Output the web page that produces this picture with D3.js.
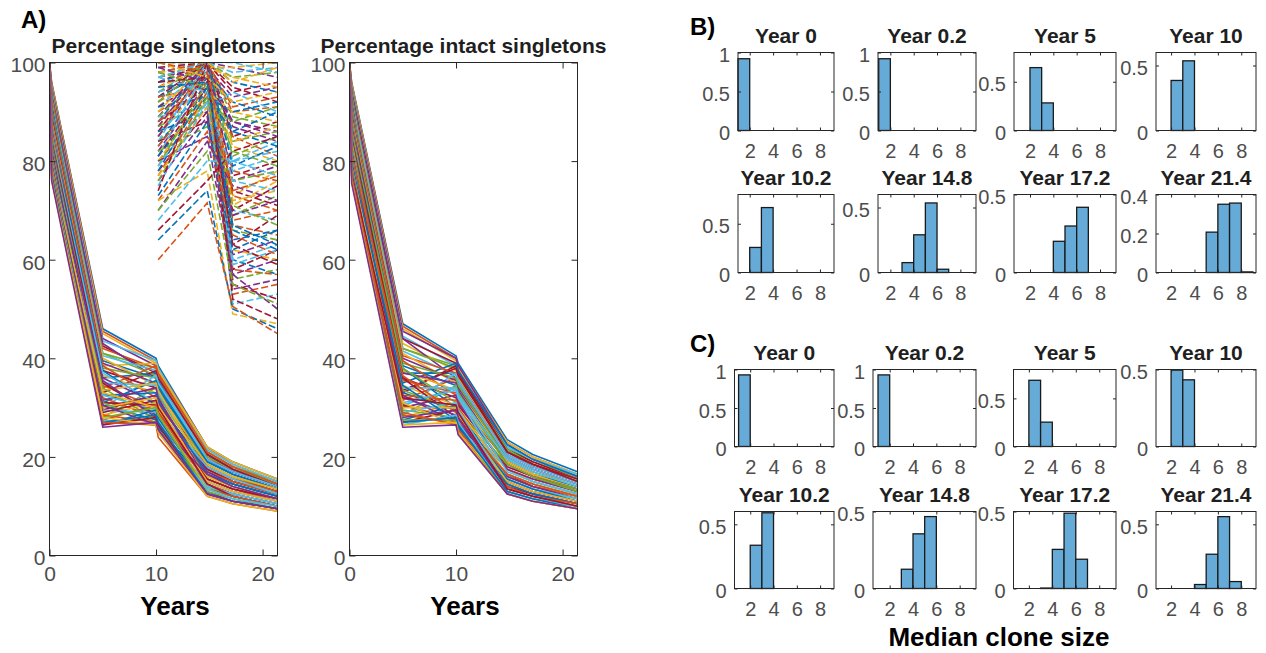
<!DOCTYPE html>
<html>
<head>
<meta charset="utf-8">
<script src="https://cdn.jsdelivr.net/npm/d3@7"></script>
<style>
  body { margin: 0; background: #fff; }
  svg { display: block; font-family: "Liberation Sans", Arial, Helvetica, sans-serif; }
</style>
</head>
<body>
<div id="chart"></div>
<script>
// ---- data ----

// sample times of every simulated run (years)
const years = [0, 0.2, 5, 10, 10.2, 14.8, 17.2, 21.4];

// A, left: percentage singletons per run
const singletonRuns = [
  [100, 96, 46, 40, 38.5, 22, 19, 15.5],
  [100, 95.8, 45.5, 39.5, 38, 22, 18.5, 15],
  [100, 95.5, 45, 39, 37.5, 21.5, 18.5, 15],
  [100, 95, 44, 38.5, 37, 21, 18, 14.5],
  [100, 94.5, 41, 38, 36.5, 21, 18, 15],
  [100, 94, 43.5, 39.5, 38, 21.5, 18.5, 15],
  [100, 93.5, 42.5, 37, 35.5, 20.5, 17.5, 14],
  [100, 93.2, 36, 37, 35.5, 20.5, 17.5, 14.5],
  [100, 93, 42, 38, 36.5, 20, 17, 14],
  [100, 92.5, 38.5, 39, 37.5, 22, 19, 15.5],
  [100, 92.2, 43, 36, 34.5, 19.5, 17, 14],
  [100, 92, 41, 36.5, 35, 20, 17.5, 14.5],
  [100, 91.5, 40.5, 37.5, 36, 19.5, 16.5, 13.5],
  [100, 91.2, 33, 37.5, 36, 20.5, 17.5, 14],
  [100, 91, 39.5, 36, 34.5, 19, 16.5, 13.5],
  [100, 90.5, 34, 38.5, 37, 21, 18, 14.5],
  [100, 90.2, 40, 34.5, 33, 18.5, 16, 13.5],
  [100, 90, 39, 35, 33.5, 19.5, 17, 14],
  [100, 89.5, 38, 36, 34, 18.5, 16, 13],
  [100, 89.2, 30, 36.5, 35, 19.5, 17, 14],
  [100, 89, 37.5, 34, 32.5, 18, 15.5, 13],
  [100, 88.5, 31, 35.5, 34, 19, 16.5, 13.5],
  [100, 88.2, 38.5, 32, 30.5, 18, 15.5, 13],
  [100, 88, 36.5, 33, 31.5, 18.5, 16, 13.5],
  [100, 87.5, 36, 31, 29.5, 17.5, 15, 12.5],
  [100, 87.2, 28, 34, 32.5, 17.5, 15, 12.5],
  [100, 87, 35, 34.5, 33, 17, 14.5, 12],
  [100, 86.5, 29.5, 32.5, 31, 17.5, 15, 12.5],
  [100, 86.2, 37.5, 30.5, 29, 16.5, 14.5, 12],
  [100, 86, 34.5, 30, 28.5, 17, 15, 12.5],
  [100, 85.5, 33.5, 35, 33.5, 16.5, 14, 11.5],
  [100, 85.2, 30, 32.5, 31, 17, 14.5, 12],
  [100, 85, 33, 29, 27.5, 16, 14, 11.5],
  [100, 84.5, 37, 31, 29.5, 18, 15.5, 12.5],
  [100, 84.2, 35, 28.5, 27, 15.5, 13.5, 11.5],
  [100, 84, 32.5, 33, 31.5, 16.5, 14.5, 12],
  [100, 83.5, 32, 28, 26.5, 15.5, 13.5, 11],
  [100, 83.2, 28.5, 31, 29.5, 16, 14, 11.5],
  [100, 83, 31.5, 34, 32, 15, 13, 11],
  [100, 82.5, 34, 27.5, 26, 14, 12, 10],
  [100, 82.2, 32.5, 29.5, 28, 15, 13, 11],
  [100, 82, 31, 30.5, 29, 15.5, 13.5, 11.5],
  [100, 81.5, 30.5, 27.5, 26, 14.5, 12.5, 10.5],
  [100, 81.2, 27.5, 30.5, 29, 14.5, 12.5, 10.5],
  [100, 81, 30, 32, 30.5, 15, 13, 11],
  [100, 80.5, 35.5, 28, 26.5, 16.5, 14, 11.5],
  [100, 80.2, 31, 27, 25.5, 14, 12, 10],
  [100, 80, 29.5, 29, 27.5, 14, 12.5, 10.5],
  [100, 79.5, 29, 31.5, 30, 14.5, 12, 10],
  [100, 79.2, 26.5, 29.5, 28, 13.5, 12, 10],
  [100, 79, 28.5, 27, 25.5, 13.5, 12, 10],
  [100, 78.5, 33, 30, 28.5, 13.5, 11.5, 9.5],
  [100, 78.2, 30.5, 26.5, 25, 13, 11, 9.5],
  [100, 78, 28, 30, 28.5, 13, 11.5, 9.5],
  [100, 77.5, 27.5, 26.5, 25, 13.5, 11.5, 10],
  [100, 77.2, 26.5, 28, 26.5, 12.5, 11, 9.5],
  [100, 77, 27, 28.5, 27, 12.5, 11, 9.5],
  [100, 76.5, 27, 26.5, 24, 12, 10.5, 9],
  [100, 76.2, 28, 26.5, 25, 12, 10.5, 9],
  [100, 76, 26, 27, 25.5, 12.5, 11, 9.5]
];

// A, left: second (dashed) set of runs, starting after year 10
const dashedYears = [10.2, 14.8, 17.2, 21.4];
const dashedRuns = [
  [100, 100, 99, 97], [100, 100, 97, 98], [99, 100, 98, 99], [99, 100, 94, 96],
  [98, 100, 96, 94], [98, 100, 91, 93], [98, 99, 99, 100], [97, 99, 93, 95],
  [97, 100, 89, 87], [97, 100, 100, 98], [96, 100, 95, 92], [96, 99, 86, 90],
  [95, 100, 90, 91], [95, 99, 97, 95], [94, 98, 88, 86], [94, 100, 84, 86],
  [94, 97, 80, 84], [93, 100, 85, 88], [93, 98, 92, 89], [93, 95, 85, 81],
  [92, 97, 83, 80], [92, 100, 87, 84], [92, 100, 81, 85], [91, 99, 80, 82],
  [91, 97, 77, 80], [91, 93, 90, 92], [90, 96, 78, 76], [90, 100, 73, 78],
  [89, 100, 76, 79], [89, 98, 69, 73], [89, 91, 94, 90], [88, 95, 74, 71],
  [88, 100, 79, 83], [88, 97, 67, 65], [87, 98, 72, 74], [87, 100, 61, 64],
  [87, 92, 88, 91], [86, 94, 70, 68], [86, 99, 58, 62], [86, 90, 60, 57],
  [85, 100, 68, 70], [85, 97, 71, 76], [85, 98, 54, 56], [84, 93, 66, 64],
  [84, 100, 51, 53], [84, 88, 70, 75], [83, 97, 64, 66], [83, 95, 73, 70],
  [82, 92, 62, 60], [82, 96, 69, 72], [82, 87, 76, 78], [81, 99, 60, 63],
  [81, 95, 63, 69], [81, 93, 86, 83], [80, 91, 58, 57], [80, 94, 90, 88],
  [80, 85, 57, 60], [79, 96, 56, 58], [79, 92, 78, 81], [78, 90, 55, 52],
  [78, 95, 67, 63], [77, 94, 53, 55], [77, 91, 84, 87], [76, 89, 57, 50],
  [76, 93, 71, 67], [75, 92, 59, 62], [74, 100, 52, 48], [73, 88, 62, 66],
  [72, 86, 65, 61], [72, 78, 49, 47], [70, 84, 75, 72], [70, 82, 55, 51],
  [68, 80, 80, 77], [66, 76, 82, 85], [64, 74, 50, 46], [60, 71.5, 50.5, 45],
  [100, 97, 92, 94], [99, 96, 88, 85], [98, 95, 82, 79], [97, 94, 76, 74],
  [96, 97, 63, 59], [95, 96, 66, 62], [100, 98, 74, 77], [100, 100, 96, 99]
];

// A, right: percentage intact singletons per run
const intactRuns = [
  [100, 96, 47, 40.5, 39, 23.5, 20.5, 17],
  [100, 95.8, 46.5, 40, 38.5, 23, 20, 16.5],
  [100, 95.5, 46, 39.5, 38, 23, 20, 16.5],
  [100, 95, 45.5, 40, 38.5, 22.5, 19.5, 16],
  [100, 94.8, 42, 38.5, 37, 22, 19, 16],
  [100, 94.5, 44.5, 38.5, 37, 22, 19.5, 16.5],
  [100, 94, 44, 39, 37.5, 21.5, 19, 15.5],
  [100, 93.8, 37, 37, 35.5, 21.5, 18.5, 15.5],
  [100, 93.5, 31.5, 36, 34.5, 21, 18, 15],
  [100, 93, 43, 37.5, 36, 21, 18.5, 15.5],
  [100, 92.8, 44, 36, 34.5, 20.5, 18, 15],
  [100, 92.5, 42, 38, 36.5, 21.5, 18.5, 15],
  [100, 92, 41.5, 36.5, 35, 20.5, 18, 15],
  [100, 91.8, 33, 38.5, 37, 21, 18.5, 15.5],
  [100, 91.5, 35, 39, 37.5, 22.5, 19.5, 16],
  [100, 91, 40.5, 37, 35.5, 20, 17.5, 14.5],
  [100, 90.8, 41, 35, 33.5, 19.5, 17, 14.5],
  [100, 90.5, 40, 35.5, 34, 20, 17.5, 14.5],
  [100, 90, 39, 36, 34.5, 19.5, 17, 14],
  [100, 89.8, 30, 37, 35.5, 20, 17.5, 14.5],
  [100, 89.5, 33.5, 38, 36.5, 21, 18.5, 15],
  [100, 89, 38.5, 34.5, 33, 19, 16.5, 14],
  [100, 88.8, 39.5, 32.5, 31, 19, 16.5, 13.5],
  [100, 88.5, 37.5, 33.5, 32, 19, 16.5, 13.5],
  [100, 88, 37, 35, 33.5, 18.5, 16, 13.5],
  [100, 87.8, 28.5, 34.5, 33, 18.5, 16, 13.5],
  [100, 87.5, 30.5, 34, 32.5, 19.5, 17, 14],
  [100, 87, 36, 32, 30.5, 18, 16, 13],
  [100, 86.8, 38, 30, 28.5, 17.5, 15, 12.5],
  [100, 86.5, 35.5, 33, 31.5, 17.5, 15.5, 13],
  [100, 86, 34.5, 30.5, 29, 17.5, 15, 12.5],
  [100, 85.8, 30, 32.5, 31, 17.5, 15.5, 13],
  [100, 85.5, 38, 31, 29.5, 18.5, 16, 13],
  [100, 85, 34, 34, 32.5, 17, 15, 12.5],
  [100, 84.8, 36, 28, 26.5, 16.5, 14, 12],
  [100, 84.5, 33, 29.5, 28, 16.5, 14.5, 12],
  [100, 84, 32.5, 31.5, 30, 16, 14, 12],
  [100, 83.8, 28, 31, 29.5, 16.5, 14.5, 12],
  [100, 83, 32, 28.5, 27, 16, 14, 11.5],
  [100, 82.8, 33.5, 29.5, 28, 15.5, 13.5, 11.5],
  [100, 82.5, 31, 33.5, 32, 15.5, 13.5, 11.5],
  [100, 82, 30.5, 27.5, 26, 15, 13, 11],
  [100, 81.8, 27.5, 30.5, 29, 15.5, 13.5, 11],
  [100, 81.5, 36.5, 29, 27.5, 16.5, 14.5, 12],
  [100, 81, 30, 30, 28.5, 15, 13, 11],
  [100, 80.8, 32.5, 27, 25.5, 14.5, 12.5, 10.5],
  [100, 80.5, 29.5, 28, 26.5, 14.5, 12.5, 10.5],
  [100, 80, 29, 31, 29.5, 14, 12.5, 10.5],
  [100, 79.8, 27, 29.5, 28, 14, 12.5, 10.5],
  [100, 79.5, 34.5, 27.5, 26, 14.5, 12.5, 10.5],
  [100, 79, 28.5, 27, 25.5, 14, 12, 10.5],
  [100, 78.8, 31, 26.5, 25, 13.5, 12, 10],
  [100, 78.5, 28, 29.5, 28, 13.5, 12, 10],
  [100, 78, 27.5, 27.5, 25, 13, 11.5, 10],
  [100, 77.8, 26.5, 28.5, 27, 13, 11.5, 10],
  [100, 77.5, 32, 30.5, 29, 13.5, 12, 10],
  [100, 77, 27, 28, 26.5, 13, 11.5, 9.5],
  [100, 76.8, 29, 26.5, 25, 12.5, 11, 9.5],
  [100, 76, 26.5, 27, 25, 12.5, 11, 9.5],
  [100, 75.5, 26, 26.5, 24.5, 12.5, 11, 9.5]
];

const lineTicksX = [0, 10, 20];
const lineTicksY = [0, 20, 40, 60, 80, 100];

// B and C: fraction of runs per median clone size bin
const histTitles = ['Year 0', 'Year 0.2', 'Year 5', 'Year 10', 'Year 10.2', 'Year 14.8', 'Year 17.2', 'Year 21.4'];
const binEdges = [1, 2, 3, 4, 5, 6, 7, 8, 9];
const histTicksX = [2, 4, 6, 8];

const histB = [
  [0.92, 0, 0, 0, 0, 0, 0, 0],
  [0.92, 0, 0, 0, 0, 0, 0, 0],
  [0, 0.645, 0.283, 0, 0, 0, 0, 0],
  [0, 0.385, 0.536, 0, 0, 0, 0, 0],
  [0, 0.257, 0.666, 0, 0, 0, 0, 0],
  [0, 0, 0.076, 0.29, 0.535, 0.025, 0, 0],
  [0, 0, 0, 0.2, 0.298, 0.418, 0, 0],
  [0, 0, 0, 0, 0.207, 0.35, 0.356, 0.003]
];
const yMaxB = [1, 1, 0.8, 0.6, 0.8, 0.6, 0.5, 0.4];
const yTicksB = [[0, 0.5, 1], [0, 0.5, 1], [0, 0.5], [0, 0.5], [0, 0.5], [0, 0.5], [0, 0.5], [0, 0.2, 0.4]];

const histC = [
  [0.93, 0, 0, 0, 0, 0, 0, 0],
  [0.93, 0, 0, 0, 0, 0, 0, 0],
  [0, 0.688, 0.253, 0, 0, 0, 0, 0],
  [0, 0.496, 0.433, 0, 0, 0, 0, 0],
  [0, 0.337, 0.59, 0, 0, 0, 0, 0],
  [0, 0, 0.125, 0.355, 0.467, 0, 0, 0],
  [0, 0, 0.003, 0.254, 0.489, 0.19, 0, 0],
  [0, 0, 0, 0.031, 0.267, 0.56, 0.054, 0]
];
const yMaxC = [1, 1, 0.8, 0.5, 0.6, 0.5, 0.5, 0.6];
const yTicksC = [[0, 0.5, 1], [0, 0.5, 1], [0, 0.5], [0, 0.5], [0, 0.5], [0, 0.5], [0, 0.5], [0, 0.5]];

// ---- layout and style ----
const matlabColors = ['#0072BD', '#D95319', '#EDB120', '#7E2F8E', '#77AC30', '#4DBEEE', '#A2142F'];
const axisColor = '#262626';
const tickTextColor = '#4d4d4d';
const barFill = '#66aad7';

const lineBoxes = [
  { left: 49.5, right: 277.5, top: 62.5, bottom: 555.5 },
  { left: 349.5, right: 577.5, top: 62.5, bottom: 555.5 }
];

// pixel columns and x limits of the small histogram axes
const histLayoutB = {
  cols: [[738, 834], [878, 976], [1014, 1116], [1156, 1256]],
  xlims: [[1, 9.2], [0.94, 9.34], [0.63, 9.37], [0.71, 9.26]],
  rows: [[52.5, 130.5], [194.5, 272.5]]
};
const histLayoutC = {
  cols: [[734.5, 834], [873, 976], [1013.5, 1116], [1156, 1256]],
  xlims: [[0.65, 9.19], [0.57, 9.4], [0.69, 9.43], [0.71, 9.26]],
  rows: [[369.5, 446.5], [511.5, 588.5]]
};

const svg = d3.select('#chart').append('svg')
  .attr('width', 1266)
  .attr('height', 653);

// draws the box with inward ticks on all four sides
function drawFrame(g, box, x, y, opts) {
  const tickStyle = sel => {
    sel.attr('font-family', null).attr('font-size', null);
    sel.select('.domain').remove();
    sel.selectAll('line').attr('stroke', axisColor);
    sel.selectAll('text').attr('fill', tickTextColor).attr('font-size', opts.fontSize);
  };
  g.append('g').attr('transform', `translate(0,${box.bottom})`)
    .call(d3.axisBottom(x).tickValues(opts.ticksX).tickSize(-opts.tickLen).tickPadding(opts.xPad).tickFormat(d3.format('d')))
    .call(tickStyle);
  g.append('g').attr('transform', `translate(0,${box.top})`)
    .call(d3.axisTop(x).tickValues(opts.ticksX).tickSize(-opts.tickLen).tickFormat(''))
    .call(tickStyle);
  g.append('g').attr('transform', `translate(${box.left},0)`)
    .call(d3.axisLeft(y).tickValues(opts.ticksY).tickSize(-opts.tickLen).tickPadding(opts.yPad).tickFormat(d3.format('~g')))
    .call(tickStyle)
    .call(sel => sel.selectAll('text').attr('dy', '0.45em'));
  g.append('g').attr('transform', `translate(${box.right},0)`)
    .call(d3.axisRight(y).tickValues(opts.ticksY).tickSize(-opts.tickLen).tickFormat(''))
    .call(tickStyle);
  g.append('rect')
    .attr('x', box.left).attr('y', box.top)
    .attr('width', box.right - box.left).attr('height', box.bottom - box.top)
    .attr('fill', 'none').attr('stroke', axisColor).attr('stroke-width', 1);
}

function addTitle(box, title) {
  svg.append('text')
    .attr('x', (box.left + box.right) / 2).attr('y', box.top - 9.5)
    .attr('text-anchor', 'middle')
    .attr('font-weight', 'bold').attr('font-size', 21)
    .attr('fill', '#1f1f1f')
    .text(title);
}

// line panel of A
function drawLinePanel(idx, title, runs, extraRuns, labelX) {
  const box = lineBoxes[idx];
  const x = d3.scaleLinear().domain([0, 21.4]).range([box.left, box.right]);
  const y = d3.scaleLinear().domain([0, 100]).range([box.bottom, box.top]);
  const g = svg.append('g');

  g.append('clipPath').attr('id', 'clip' + idx).append('rect')
    .attr('x', box.left).attr('y', box.top)
    .attr('width', box.right - box.left).attr('height', box.bottom - box.top);

  const plot = g.append('g').attr('clip-path', `url(#clip${idx})`);
  const line = d3.line().x((d, i) => x(years[i])).y(d => y(d));
  plot.selectAll('path.run').data(runs).join('path')
    .attr('class', 'run')
    .attr('d', line)
    .attr('fill', 'none')
    .attr('stroke', (d, i) => matlabColors[i % matlabColors.length])
    .attr('stroke-width', 1.6)
    .attr('stroke-linejoin', 'round');

  if (extraRuns) {
    const dashLine = d3.line().x((d, i) => x(dashedYears[i])).y(d => y(d));
    plot.selectAll('path.dash').data(extraRuns).join('path')
      .attr('class', 'dash')
      .attr('d', dashLine)
      .attr('fill', 'none')
      .attr('stroke', (d, i) => matlabColors[(i + 3) % matlabColors.length])
      .attr('stroke-width', 1.6)
      .attr('stroke-dasharray', '7,3');
  }

  drawFrame(g, box, x, y, {
    ticksX: lineTicksX, ticksY: lineTicksY, tickLen: 6, xPad: 11, yPad: 4, fontSize: 21
  });
  addTitle(box, title);

  svg.append('text')
    .attr('x', labelX).attr('y', 615)
    .attr('text-anchor', 'middle')
    .attr('font-weight', 'bold').attr('font-size', 26)
    .attr('fill', '#000')
    .text('Years');
}

// one small histogram of B or C
function drawHistogram(box, xlim, title, values, yMax, yTicks) {
  const x = d3.scaleLinear().domain(xlim).range([box.left, box.right]);
  const y = d3.scaleLinear().domain([0, yMax]).range([box.bottom, box.top]);
  const g = svg.append('g');

  g.selectAll('rect.bar').data(values).join('rect')
    .attr('class', 'bar')
    .attr('x', (d, i) => x(binEdges[i]))
    .attr('width', (d, i) => x(binEdges[i + 1]) - x(binEdges[i]))
    .attr('y', d => y(d))
    .attr('height', d => y(0) - y(d))
    .attr('fill', barFill)
    .attr('stroke', '#1a1a1a')
    .attr('stroke-width', 1.3);

  drawFrame(g, box, x, y, {
    ticksX: histTicksX, ticksY: yTicks, tickLen: 3, xPad: 13, yPad: 8, fontSize: 20
  });
  addTitle(box, title);
}

function drawHistGroup(layout, data, yMax, yTicks) {
  data.forEach((values, i) => {
    const row = Math.floor(i / 4), col = i % 4;
    const box = {
      left: layout.cols[col][0], right: layout.cols[col][1],
      top: layout.rows[row][0], bottom: layout.rows[row][1]
    };
    drawHistogram(box, layout.xlims[col], histTitles[i], values, yMax[i], yTicks[i]);
  });
}

function panelLabel(x, y, text) {
  svg.append('text')
    .attr('x', x).attr('y', y)
    .attr('font-weight', 'bold').attr('font-size', 24)
    .attr('fill', '#000')
    .text(text);
}

drawLinePanel(0, 'Percentage singletons', singletonRuns, dashedRuns, 175);
drawLinePanel(1, 'Percentage intact singletons', intactRuns, null, 465);
drawHistGroup(histLayoutB, histB, yMaxB, yTicksB);
drawHistGroup(histLayoutC, histC, yMaxC, yTicksC);

panelLabel(21, 28, 'A)');
panelLabel(690, 35, 'B)');
panelLabel(690, 352, 'C)');

svg.append('text')
  .attr('x', 999).attr('y', 646)
  .attr('text-anchor', 'middle')
  .attr('font-weight', 'bold').attr('font-size', 26)
  .attr('fill', '#000')
  .text('Median clone size');
</script>
</body>
</html>
